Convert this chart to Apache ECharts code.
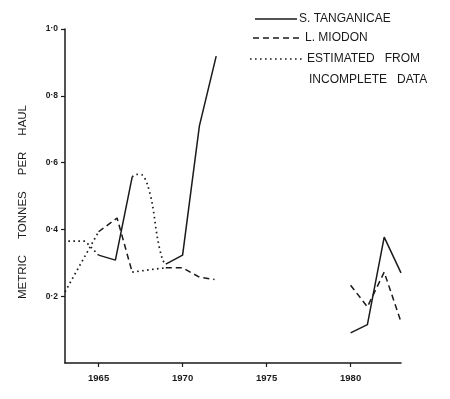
<!DOCTYPE html>
<html>
<head>
<meta charset="utf-8">
<script src="https://cdn.jsdelivr.net/npm/echarts@6/dist/echarts.min.js"></script>
<style>
html,body{margin:0;padding:0;background:#fff;}
#chart{width:450px;height:399px;}
</style>
</head>
<body>
<div id="chart"></div>
<script>
// ---- data (year, metric tonnes per haul) ----
const xTickYears = [1965, 1970, 1975, 1980];
const yTickValues = [0.2, 0.4, 0.6, 0.8, 1.0];

const tanganicae1960s = [[1965, 0.323], [1966, 0.308], [1967, 0.557]];
const tanganicae1970s = [[1969, 0.296], [1970, 0.323], [1971, 0.71], [1972, 0.919]];
const tanganicae1980s = [[1980, 0.09], [1981, 0.115], [1982, 0.377], [1983, 0.27]];

const miodon1960s = [[1965, 0.393], [1966.1, 0.434], [1967, 0.272]];
const miodon1970s = [[1969, 0.285], [1970, 0.285], [1971, 0.257], [1971.9, 0.25]];
const miodon1980s = [[1980, 0.233], [1981, 0.168], [1982, 0.272], [1983, 0.123]];

const estimatedMiodonStart = [[1963, 0.213], [1965, 0.393]];
const estimatedTanganicaeStart = [[1963.2, 0.365], [1964.2, 0.365], [1965, 0.323]];
const estimatedTanganicaeGap = [[1967, 0.557], [1967.25, 0.565], [1967.6, 0.563], [1967.9, 0.535], [1968.2, 0.475], [1968.5, 0.375], [1968.8, 0.31], [1969, 0.296]];
const estimatedMiodonGap = [[1967, 0.272], [1968, 0.279], [1969, 0.285]];

const legendLabels = ['S. TANGANICAE', 'L. MIODON', 'ESTIMATED   FROM', 'INCOMPLETE   DATA'];
const yAxisTitle = 'METRIC     TONNES     PER     HAUL';

// ---- styles ----
const INK = '#1a1a1a';
const solid = { color: INK, width: 1.5, type: 'solid' };
const dashed = { color: INK, width: 1.5, type: [6, 4] };
const dotted = { color: INK, width: 1.7, type: [1.6, 3.4] };

function lineSeries(data, style, smooth) {
  return {
    type: 'line',
    data: data,
    symbol: 'none',
    smooth: smooth || false,
    lineStyle: style,
    silent: true,
    animation: false
  };
}

const chart = echarts.init(document.getElementById('chart'), null, { renderer: 'canvas' });

const font = '"Liberation Sans", Arial, sans-serif';

chart.setOption({
  animation: false,
  backgroundColor: '#fff',
  grid: { left: 65, right: 49, top: 29, bottom: 36, containLabel: false },
  xAxis: {
    type: 'value',
    min: 1963,
    max: 1983,
    axisLine: { show: true, onZero: false, lineStyle: { color: INK, width: 1.5 } },
    axisTick: { show: true, customValues: xTickYears, length: 4, inside: false, lineStyle: { color: INK, width: 1.2 } },
    axisLabel: { customValues: xTickYears, color: INK, fontFamily: font, fontSize: 9.5, fontWeight: 'bold', margin: 10, formatter: v => String(v) },
    splitLine: { show: false }
  },
  yAxis: {
    type: 'value',
    min: 0,
    max: 1.0,
    interval: 0.2,
    axisLine: { show: true, lineStyle: { color: INK, width: 1.5 } },
    axisTick: { show: true, customValues: yTickValues, length: 4, lineStyle: { color: INK, width: 1.2 } },
    axisLabel: {
      customValues: yTickValues,
      color: INK, fontFamily: font, fontSize: 8.5, fontWeight: 'bold', margin: 7,
      formatter: v => v.toFixed(1).replace('.', '\u00b7')
    },
    splitLine: { show: false }
  },
  series: [
    lineSeries(tanganicae1960s, solid),
    lineSeries(tanganicae1970s, solid),
    lineSeries(tanganicae1980s, solid),
    lineSeries(miodon1960s, dashed),
    lineSeries(miodon1970s, dashed),
    lineSeries(miodon1980s, dashed),
    lineSeries(estimatedMiodonStart, dotted),
    lineSeries(estimatedTanganicaeStart, dotted),
    lineSeries(estimatedTanganicaeGap, dotted, 0.3),
    lineSeries(estimatedMiodonGap, dotted)
  ],
  graphic: [
    { type: 'line', shape: { x1: 255, y1: 19, x2: 297, y2: 19 }, style: { stroke: INK, lineWidth: 1.5 } },
    { type: 'line', shape: { x1: 253, y1: 38, x2: 302, y2: 38 }, style: { stroke: INK, lineWidth: 1.5, lineDash: [6, 4] } },
    { type: 'line', shape: { x1: 250, y1: 59, x2: 305, y2: 59 }, style: { stroke: INK, lineWidth: 1.7, lineDash: [1.6, 3.4] } },
    { type: 'text', x: 299, y: 19, style: { text: legendLabels[0], fill: INK, font: '12px ' + font, textAlign: 'left', textVerticalAlign: 'middle' } },
    { type: 'text', x: 305, y: 38, style: { text: legendLabels[1], fill: INK, font: '12px ' + font, textAlign: 'left', textVerticalAlign: 'middle' } },
    { type: 'text', x: 307, y: 59, style: { text: legendLabels[2], fill: INK, font: '12px ' + font, textAlign: 'left', textVerticalAlign: 'middle' } },
    { type: 'text', x: 309, y: 80, style: { text: legendLabels[3], fill: INK, font: '12px ' + font, textAlign: 'left', textVerticalAlign: 'middle' } },
    { type: 'text', x: 23, y: 202, rotation: Math.PI / 2, style: { text: yAxisTitle, fill: INK, font: '11.5px ' + font, textAlign: 'center', textVerticalAlign: 'middle' } }
  ]
});
</script>
</body>
</html>
